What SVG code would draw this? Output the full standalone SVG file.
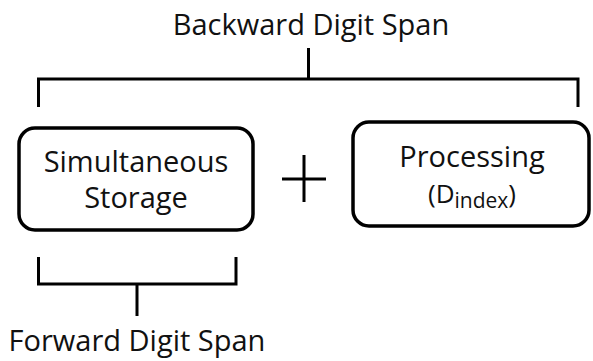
<svg xmlns="http://www.w3.org/2000/svg" width="593" height="361" viewBox="0 0 593 361">
  <style>
    .box { fill: #ffffff; stroke: #000000; stroke-width: 3.5; }
    .line { fill: none; stroke: #000000; stroke-width: 3; }
    text { font-family: "Open Sans", "Noto Sans", sans-serif; fill: #111111; text-anchor: middle; }
    .lbl { font-size: 29px; }
  </style>
  <rect width="593" height="361" fill="#ffffff"/>

  <g id="connectors">
    <!-- upper bracket spanning both components -->
    <path class="line" d="M38.5,107 V79 H578 V107 M308.5,48 V79"/>
    <!-- lower bracket under storage -->
    <path class="line" d="M38.5,257 V284 H236 V257 M137,284 V316"/>
    <!-- plus sign -->
    <path class="line" d="M282,179 H326 M304,155 V202"/>
  </g>

  <g id="label-backward">
    <text class="lbl" x="311" y="35">Backward Digit Span</text>
  </g>

  <g id="node-storage">
    <rect class="box" x="19" y="128" width="234" height="102" rx="16"/>
    <text class="lbl" x="136" y="172">Simultaneous</text>
    <text class="lbl" x="136" y="208">Storage</text>
  </g>

  <g id="node-processing">
    <rect class="box" x="353" y="122" width="236" height="104" rx="16"/>
    <text class="lbl" x="472" y="167">Processing</text>
    <text x="472" y="203" font-size="26">(D<tspan font-size="21" dy="5">index</tspan><tspan dy="-5">)</tspan></text>
  </g>

  <g id="label-forward">
    <text class="lbl" x="137" y="351">Forward Digit Span</text>
  </g>
</svg>
